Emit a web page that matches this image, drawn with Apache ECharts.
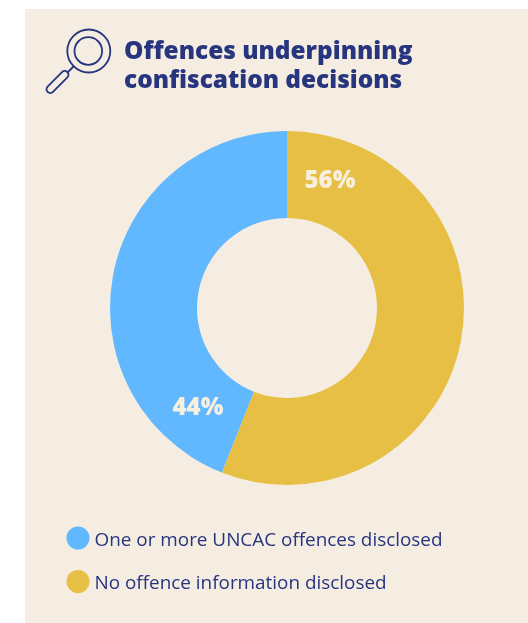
<!DOCTYPE html>
<html>
<head>
<meta charset="utf-8">
<style>html,body{margin:0;padding:0;background:#fff}#chart{width:528px;height:623px}</style>
<script src="https://cdn.jsdelivr.net/npm/echarts@6/dist/echarts.min.js"></script>
</head>
<body>
<div id="chart"></div>
<script>
const titleLines = ['Offences underpinning', 'confiscation decisions'];
const categories = ['No offence information disclosed', 'One or more UNCAC offences disclosed'];
const shares = [56, 44];
const colours = ['#E8BF45', '#61B8FF'];
const legendOrder = ['One or more UNCAC offences disclosed', 'No offence information disclosed'];

const navy = '#27357F';
const panel = '#F5EDE2';
const font = '"Open Sans", sans-serif';
// Percent labels sit near the inner edge of each slice rather than at its mid-angle
const labelSpots = [[330, 181], [198, 408]];

const chart = echarts.init(document.getElementById('chart'));
chart.setOption({
  animation: false,
  backgroundColor: '#fff',
  title: {
    text: titleLines.join('\n'),
    left: 119,
    top: 33,
    textStyle: { fontFamily: font, fontWeight: 800, fontSize: 24.4, lineHeight: 28.5, color: navy }
  },
  legend: {
    orient: 'vertical',
    left: 61.5,
    top: 521.5,
    data: legendOrder,
    icon: 'circle',
    itemWidth: 23,
    itemHeight: 23,
    itemGap: 20,
    selectedMode: false,
    formatter: name => '{t|' + name + '}',
    textStyle: {
      rich: { t: { fontFamily: font, fontSize: 18.9, color: navy, padding: [5, 0, 0, 0] } }
    }
  },
  graphic: [
    { type: 'rect', z: -1, silent: true, shape: { x: 25, y: 9, width: 503, height: 614 }, style: { fill: panel } },
    { type: 'circle', shape: { cx: 88.8, cy: 51, r: 21.5 }, style: { fill: 'none', stroke: navy, lineWidth: 1.8 } },
    { type: 'circle', shape: { cx: 88.3, cy: 51, r: 13.8 }, style: { fill: 'none', stroke: navy, lineWidth: 1.8 } },
    { type: 'line', shape: { x1: 73.5, y1: 66.5, x2: 67, y2: 73 }, style: { stroke: navy, lineWidth: 1.8 } },
    { type: 'rect', rotation: Math.PI / 4, x: 57.5, y: 82,
      shape: { x: -14, y: -3.8, width: 28, height: 7.6, r: 3.8 },
      style: { fill: 'none', stroke: navy, lineWidth: 1.8 } }
  ],
  series: [{
    type: 'pie',
    center: [287, 308],
    radius: [90, 177],
    startAngle: 90,
    clockwise: true,
    silent: true,
    data: categories.map((name, i) => ({ name, value: shares[i], itemStyle: { color: colours[i] } })),
    label: {
      position: 'inside',
      formatter: '{c}%',
      fontFamily: font,
      fontWeight: 800,
      fontSize: 24,
      color: '#F7EFE0'
    },
    labelLine: { show: false },
    labelLayout: p => ({ x: labelSpots[p.dataIndex][0], y: labelSpots[p.dataIndex][1], align: 'center', verticalAlign: 'middle' })
  }]
});
</script>
</body>
</html>
